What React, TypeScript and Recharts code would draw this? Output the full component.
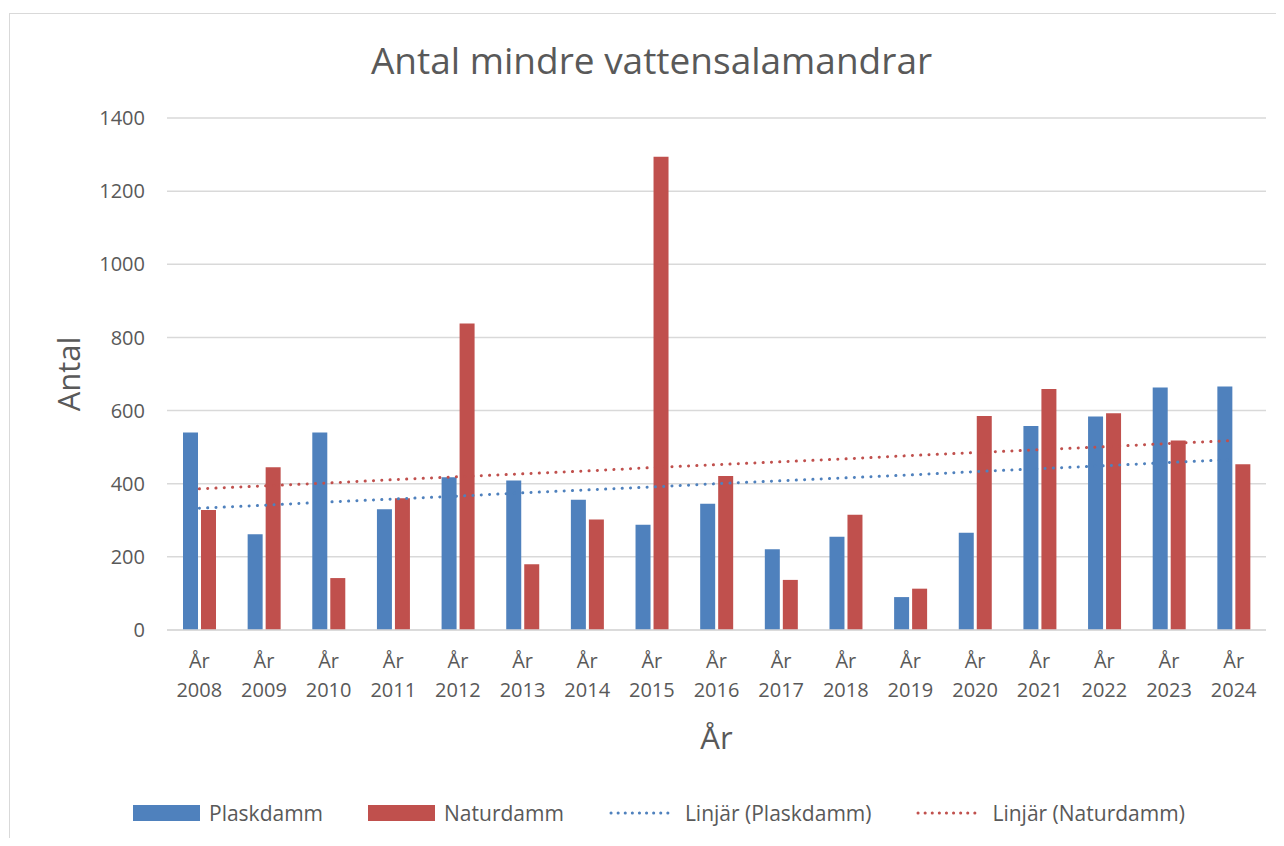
import React from 'react';
import { ComposedChart, Bar, Line, XAxis, YAxis, CartesianGrid, Label } from 'recharts';

const CATEGORIES = ['År 2008', 'År 2009', 'År 2010', 'År 2011', 'År 2012', 'År 2013', 'År 2014', 'År 2015', 'År 2016', 'År 2017', 'År 2018', 'År 2019', 'År 2020', 'År 2021', 'År 2022', 'År 2023', 'År 2024'];
const PLASKDAMM = [540, 262, 540, 330, 418, 409, 356, 288, 345, 221, 255, 90, 266, 558, 584, 663, 666];
const NATURDAMM = [328, 445, 142, 360, 838, 180, 302, 1294, 421, 137, 315, 113, 585, 659, 593, 518, 453];
// trendline values
const TREND_PLASK = [333, 341, 350, 358, 366, 375, 383, 391, 400, 408, 416, 424, 433, 441, 449, 458, 466];
const TREND_NATUR = [386, 394, 402, 411, 419, 427, 435, 444, 452, 460, 468, 477, 485, 493, 501, 510, 518];
const Y_TICKS = [0, 200, 400, 600, 800, 1000, 1200, 1400];

const BLUE = '#4F81BD';
const RED = '#C0504D';
const TEXT = '#595959';
const GRID = '#d9d9d9';
const FONT = '"Open Sans", "Noto Sans", sans-serif';

const data = CATEGORIES.map((name, i) => ({
  name,
  plask: PLASKDAMM[i],
  natur: NATURDAMM[i],
  trendPlask: TREND_PLASK[i],
  trendNatur: TREND_NATUR[i],
}));

const LEGEND = [
  { label: 'Plaskdamm', color: BLUE, kind: 'bar' },
  { label: 'Naturdamm', color: RED, kind: 'bar' },
  { label: 'Linjär (Plaskdamm)', color: BLUE, kind: 'dots' },
  { label: 'Linjär (Naturdamm)', color: RED, kind: 'dots' },
];

const YearTick = (props: any) => {
  const { x, y, payload } = props;
  const [first, second] = String(payload.value).split(' ');
  return (
    <text x={x} y={y} textAnchor="middle" fill={TEXT} fontSize={20} fontFamily={FONT}>
      <tspan x={x} dy={30}>{first}</tspan>
      <tspan x={x} dy={29}>{second}</tspan>
    </text>
  );
};

const YTitle = (props: any) => {
  const { viewBox } = props;
  const cx = viewBox.x + 60;
  const cy = viewBox.y + viewBox.height / 2;
  return (
    <text x={cx} y={cy} transform={`rotate(-90 ${cx} ${cy})`} textAnchor="middle" dominantBaseline="central"
      fill={TEXT} fontSize={31} fontFamily={FONT}>Antal</text>
  );
};

const XTitle = (props: any) => {
  const { viewBox } = props;
  const cx = viewBox.x + viewBox.width / 2;
  return (
    <text x={cx} y={741} textAnchor="middle" fill={TEXT} fontSize={31} fontFamily={FONT}>År</text>
  );
};

const App: React.FC = () => {
  return (
    <div style={{ position: 'relative', width: 1276, height: 830, overflow: 'hidden', fontFamily: FONT }}>
      <div style={{ position: 'absolute', left: 1, top: 5, width: 2000, height: 2000, border: `1px solid ${GRID}` }} />
      <div style={{ position: 'absolute', left: 0, top: 31, width: 1287, textAlign: 'center', fontSize: 37, lineHeight: '42px', color: TEXT }}>
        Antal mindre vattensalamandrar
      </div>
      <div style={{ position: 'absolute', left: 0, top: 0 }}>
        <ComposedChart
          width={1276}
          height={830}
          data={data}
          margin={{ top: 110, right: 18, left: 0, bottom: 0 }}
          barSize={15}
          barGap={3}
        >
          <CartesianGrid vertical={false} stroke={GRID} strokeWidth={1.5} />
          <XAxis
            dataKey="name"
            height={208}
            interval={0}
            tick={<YearTick />}
            tickLine={false}
            axisLine={{ stroke: GRID, strokeWidth: 1.5 }}
          >
            <Label content={<XTitle />} />
          </XAxis>
          <YAxis
            width={159}
            domain={[0, 1400]}
            ticks={Y_TICKS}
            tickLine={false}
            axisLine={false}
            tickMargin={16}
            tick={{ fill: TEXT, fontSize: 20, fontFamily: FONT }}
          >
            <Label content={<YTitle />} />
          </YAxis>
          <Bar dataKey="plask" name="Plaskdamm" fill={BLUE} isAnimationActive={false} />
          <Bar dataKey="natur" name="Naturdamm" fill={RED} isAnimationActive={false} />
          <Line dataKey="trendPlask" name="Linjär (Plaskdamm)" stroke={BLUE} strokeWidth={3} strokeLinecap="round"
            strokeDasharray="0.1 8.2" dot={false} activeDot={false} isAnimationActive={false} />
          <Line dataKey="trendNatur" name="Linjär (Naturdamm)" stroke={RED} strokeWidth={3} strokeLinecap="round"
            strokeDasharray="0.1 8.2" dot={false} activeDot={false} isAnimationActive={false} />
        </ComposedChart>
      </div>
      <div style={{ position: 'absolute', left: 125, top: 790, height: 30, display: 'flex', alignItems: 'center', gap: 45 }}>
        {LEGEND.map((item) => (
          <div key={item.label} style={{ display: 'flex', alignItems: 'center' }}>
            <svg width={67} height={16} style={{ marginRight: 9 }}>
              {item.kind === 'bar' ? (
                <rect x={0} y={0} width={67} height={16} fill={item.color} />
              ) : (
                <line x1={2} y1={8} x2={65} y2={8} stroke={item.color} strokeWidth={3} strokeLinecap="round" strokeDasharray="0.1 7" />
              )}
            </svg>
            <span style={{ fontSize: 21, color: TEXT, lineHeight: '30px' }}>{item.label}</span>
          </div>
        ))}
      </div>
    </div>
  );
};

export default App;
